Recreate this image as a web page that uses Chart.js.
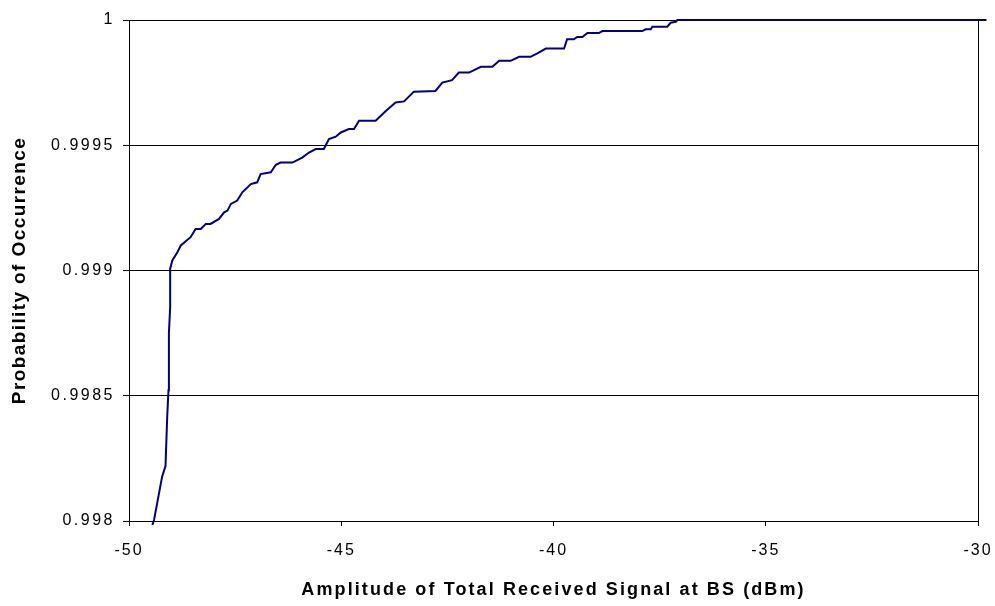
<!DOCTYPE html>
<html>
<head>
<meta charset="utf-8">
<script src="https://cdn.jsdelivr.net/npm/chart.js@4/dist/chart.umd.min.js"></script>
<style>
  html, body { margin: 0; padding: 0; background: #fff; }
  #c { display: block; }
</style>
</head>
<body>
<canvas id="c" width="995" height="606"></canvas>
<script>
// ---- data ----
const amplitude = [-49.45, -49.41, -49.22, -49.14, -49.10, -49.07, -49.06, -49.03, -49.03, -48.98,
  -48.86, -48.78, -48.55, -48.43, -48.31, -48.19, -48.08, -47.88, -47.76, -47.68,
  -47.60, -47.45, -47.33, -47.13, -46.98, -46.90, -46.66, -46.54, -46.43, -46.15,
  -45.92, -45.76, -45.60, -45.41, -45.29, -45.13, -45.01, -44.82, -44.70, -44.58,
  -44.19, -43.95, -43.72, -43.52, -43.29, -42.78, -42.62, -42.39, -42.23, -41.99,
  -41.71, -41.44, -41.28, -41.01, -40.81, -40.54, -40.38, -40.18, -39.75, -39.68,
  -39.52, -39.44, -39.32, -39.20, -38.93, -38.85, -37.91, -37.83, -37.71, -37.67,
  -37.32, -37.24, -37.12, -37.08, -35.0, -32.0, -29.8];
const probability = [0.997984, 0.998004, 0.998177, 0.998219, 0.998416, 0.998522, 0.998749, 0.998854, 0.999007, 0.999040,
  0.999073, 0.999100, 0.999133, 0.999166, 0.999166, 0.999186, 0.999186, 0.999206, 0.999232, 0.999239,
  0.999266, 0.999279, 0.999312, 0.999345, 0.999352, 0.999385, 0.999392, 0.999422, 0.999431, 0.999431,
  0.999451, 0.999471, 0.999485, 0.999485, 0.999525, 0.999534, 0.999551, 0.999565, 0.999565, 0.999598,
  0.999598, 0.999637, 0.999671, 0.999675, 0.999714, 0.999717, 0.999750, 0.999760, 0.999790, 0.999790,
  0.999813, 0.999813, 0.999837, 0.999837, 0.999853, 0.999853, 0.999867, 0.999886, 0.999886, 0.999923,
  0.999923, 0.999932, 0.999932, 0.999948, 0.999948, 0.999956, 0.999956, 0.999963, 0.999963, 0.999973,
  0.999973, 0.999989, 0.999993, 1.0, 1.0, 1.0, 1.0];
const xTickValues = [-50, -45, -40, -35, -30];
const yTickValues = [0.998, 0.9985, 0.999, 0.9995, 1];
const yTickLabels = ['0.998', '0.9985', '0.999', '0.9995', '1'];
const xTitle = 'Amplitude of Total Received Signal at BS (dBm)';
const yTitle = 'Probability of Occurrence';

// ---- chart ----
Chart.defaults.font.family = "'Liberation Sans', Arial, sans-serif";
Chart.defaults.color = '#000';

function withSpacing(scale, method, sp) {
  const cur = scale[method];
  if (cur.__ls) return;
  const f = function (...a) {
    const c = this.ctx;
    const prev = c.letterSpacing;
    c.letterSpacing = sp;
    try { return cur.apply(this, a); } finally { c.letterSpacing = prev; }
  };
  f.__ls = true;
  scale[method] = f;
}

const spacingPlugin = {
  id: 'spacing',
  beforeDraw(chart) {
    withSpacing(chart.scales.x, 'drawLabels', '2px');
    withSpacing(chart.scales.x, 'drawTitle', '2.1px');
    withSpacing(chart.scales.y, 'drawLabels', '2.5px');
    withSpacing(chart.scales.y, 'drawTitle', '1.4px');
  }
};

const points = amplitude.map((x, i) => ({ x: x, y: probability[i] }));

new Chart(document.getElementById('c'), {
  type: 'line',
  data: {
    datasets: [{
      data: points,
      borderColor: '#000080',
      borderWidth: 2,
      pointRadius: 0,
      tension: 0,
      fill: false,
      clip: { left: 0, top: 5, right: 10, bottom: 5 }
    }]
  },
  options: {
    responsive: false,
    animation: false,
    events: [],
    layout: { padding: { top: 20, right: 17, bottom: 0, left: 0 } },
    plugins: { legend: { display: false }, tooltip: { enabled: false } },
    scales: {
      x: {
        type: 'linear',
        min: -50, max: -30,
        afterBuildTicks: (s) => { s.ticks = xTickValues.map(v => ({ value: v })); },
        afterFit: (s) => { s.height = 85; s.paddingLeft = 0; s.paddingRight = 0; },
        ticks: { font: { size: 16 }, padding: 15, maxRotation: 0, autoSkip: false, color: '#000',
          callback: (v) => String(v) },
        grid: {
          drawOnChartArea: true,
          color: (c) => (c.tick && c.tick.value === -30) ? '#000' : 'rgba(0,0,0,0)',
          tickColor: '#000',
          tickLength: 5,
          lineWidth: 1
        },
        border: { display: true, color: '#000', width: 1 },
        title: { display: true, text: xTitle, font: { size: 18, weight: 'bold' }, color: '#000',
          padding: { top: 0, bottom: 5 } }
      },
      y: {
        type: 'linear',
        min: 0.998, max: 1,
        afterBuildTicks: (s) => { s.ticks = yTickValues.map(v => ({ value: v })); },
        afterFit: (s) => { s.width = 129; },
        ticks: { font: { size: 16 }, padding: 8, color: '#000',
          callback: (v) => { const i = yTickValues.findIndex(t => Math.abs(t - v) < 1e-9); return i >= 0 ? yTickLabels[i] : ''; } },
        grid: { color: '#000', tickColor: '#000', tickLength: 6, lineWidth: 1 },
        border: { display: true, color: '#000', width: 1 },
        title: { display: true, text: yTitle, font: { size: 19, weight: 'bold' }, color: '#000',
          padding: { top: 8, bottom: 0 } }
      }
    }
  },
  plugins: [spacingPlugin]
});
</script>
</body>
</html>
